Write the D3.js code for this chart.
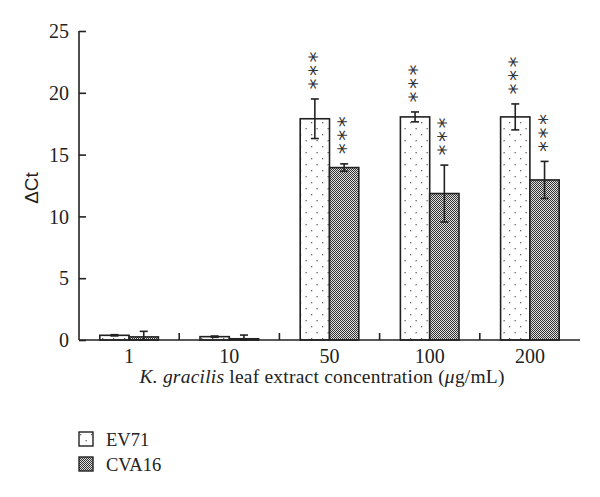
<!DOCTYPE html>
<html><head><meta charset="utf-8">
<script src="https://cdn.jsdelivr.net/npm/d3@7"></script>
<style>body{margin:0;background:#fff}</style>
</head><body>
<svg id="c" width="600" height="497"></svg>
<script>
const categories = ["1", "10", "50", "100", "200"];
const seriesNames = ["EV71", "CVA16"];
const ev71 = [0.38, 0.27, 17.9, 18.05, 18.05];
const ev71Err = [0.05, 0.05, 1.6, 0.4, 1.05];
const cva16 = [0.25, 0.10, 13.95, 11.85, 12.95];
const cva16Err = [0.45, 0.30, 0.30, 2.3, 1.5];
const stars = [false, false, true, true, true];
const yTicks = [0, 5, 10, 15, 20, 25];

const svg = d3.select("#c");
const x0 = 79, x1 = 580, yb = 340, yt = 31;

const defs = svg.append("defs");
const pd = defs.append("pattern").attr("id", "dots").attr("patternUnits", "userSpaceOnUse")
  .attr("width", 11).attr("height", 12);
pd.append("rect").attr("width", 11).attr("height", 12).attr("fill", "#fff");
pd.append("rect").attr("x", 3).attr("y", 2).attr("width", 1.3).attr("height", 1.3).attr("fill", "#666");
pd.append("rect").attr("x", 8.5).attr("y", 8).attr("width", 1.3).attr("height", 1.3).attr("fill", "#666");
const pc = defs.append("pattern").attr("id", "check").attr("patternUnits", "userSpaceOnUse")
  .attr("width", 2).attr("height", 2);
pc.append("rect").attr("width", 2).attr("height", 2).attr("fill", "#e0e0e0");
pc.append("rect").attr("x", 0).attr("y", 0).attr("width", 1).attr("height", 1).attr("fill", "#333");
pc.append("rect").attr("x", 1).attr("y", 1).attr("width", 1).attr("height", 1).attr("fill", "#333");

const x = d3.scaleBand().domain(categories).range([x0, x1]).paddingInner(0).paddingOuter(0);
const xs = d3.scaleBand().domain(seriesNames).range([0, x.bandwidth()]).paddingInner(0).paddingOuter(0.71);
const y = d3.scaleLinear().domain([0, 25]).range([yb, yt]);

const data = [];
categories.forEach((c, i) => {
  data.push({c, s: "EV71", v: ev71[i], e: ev71Err[i], star: stars[i]});
  data.push({c, s: "CVA16", v: cva16[i], e: cva16Err[i], star: stars[i]});
});
const fills = {EV71: "url(#dots)", CVA16: "url(#check)"};

const g = svg.append("g");
g.selectAll("rect.bar").data(data).enter().append("rect").attr("class", "bar")
  .attr("x", d => x(d.c) + xs(d.s))
  .attr("width", xs.bandwidth())
  .attr("y", d => y(d.v))
  .attr("height", d => yb - y(d.v))
  .attr("fill", d => fills[d.s])
  .attr("stroke", "#222").attr("stroke-width", 1.6);

// error bars
const eb = g.selectAll("g.err").data(data).enter().append("g").attr("class", "err")
  .attr("stroke", "#222").attr("stroke-width", 1.6);
const cx = d => x(d.c) + xs(d.s) + xs.bandwidth() / 2;
eb.append("line").attr("x1", cx).attr("x2", cx).attr("y1", d => y(d.v + d.e)).attr("y2", d => y(Math.max(0, d.v - d.e)));
eb.append("line").attr("x1", d => cx(d) - 4).attr("x2", d => cx(d) + 4).attr("y1", d => y(d.v + d.e)).attr("y2", d => y(d.v + d.e));
eb.append("line").attr("x1", d => cx(d) - 4).attr("x2", d => cx(d) + 4).attr("y1", d => y(Math.max(0, d.v - d.e))).attr("y2", d => y(Math.max(0, d.v - d.e)));

// significance asterisks: rotated text, one glyph per element
data.filter(d => d.star).forEach(d => {
  for (let k = 0; k < 3; k++) {
    g.append("text")
      .attr("transform", `translate(${cx(d)},${y(d.v + d.e) - 15 - k * 13.5}) rotate(90)`)
      .attr("text-anchor", "middle").attr("dominant-baseline", "central").attr("dy", "0.25em")
      .attr("font-family", "DejaVu Sans").attr("font-size", 22).attr("fill", "#333")
      .text("*");
  }
});

// axes
const yAxis = d3.axisLeft(y).tickValues(yTicks).tickSize(-7).tickPadding(10);
const ya = svg.append("g").attr("transform", `translate(${x0},0)`).call(yAxis);
ya.select(".domain").attr("stroke", "#222").attr("stroke-width", 1.6).attr("d", `M0,${yt}V${yb}`);
ya.selectAll(".tick line").attr("stroke", "#222").attr("stroke-width", 1.6);
ya.selectAll(".tick text").attr("font-family", "Liberation Serif").attr("font-size", 20).attr("fill", "#222").attr("dy", "0.33em");

const xAxis = d3.axisBottom(x).tickSize(0).tickPadding(9);
const xa = svg.append("g").attr("transform", `translate(0,${yb})`).call(xAxis);
xa.select(".domain").attr("stroke", "#222").attr("stroke-width", 1.6).attr("d", `M${x0},0H${x1}`);
xa.selectAll(".tick text").attr("font-family", "Liberation Serif").attr("font-size", 20).attr("fill", "#222");
// separator ticks between categories
xa.selectAll("line.sep").data(categories.slice(1)).enter().append("line").attr("class", "sep")
  .attr("x1", d => x(d)).attr("x2", d => x(d)).attr("y1", 0).attr("y2", -7)
  .attr("stroke", "#222").attr("stroke-width", 1.6);

// axis titles
const xt = svg.append("text").attr("x", 322).attr("y", 383).attr("text-anchor", "middle")
  .attr("font-family", "Liberation Serif").attr("font-size", 19.5).attr("fill", "#222")
  .attr("textLength", 365).attr("lengthAdjust", "spacing");
xt.append("tspan").attr("font-style", "italic").text("K. gracilis");
xt.append("tspan").text(" leaf extract concentration (");
xt.append("tspan").attr("font-style", "italic").text("\u03bc");
xt.append("tspan").text("g/mL)");

svg.append("text").attr("transform", "translate(38,188) rotate(-90)").attr("text-anchor", "middle")
  .attr("font-family", "Liberation Sans").attr("font-size", 19).attr("fill", "#222").text("\u0394Ct");

// legend
const lg = svg.append("g");
seriesNames.forEach((s, i) => {
  const yy = 432 + i * 25;
  lg.append("rect").attr("x", 79).attr("y", yy).attr("width", 14).attr("height", 14)
    .attr("fill", fills[s]).attr("stroke", "#222").attr("stroke-width", 1.4);
  lg.append("text").attr("x", 106).attr("y", yy + 14).attr("font-family", "Liberation Serif")
    .attr("font-size", 18.5).attr("fill", "#222").text(s);
});
</script>
</body></html>
